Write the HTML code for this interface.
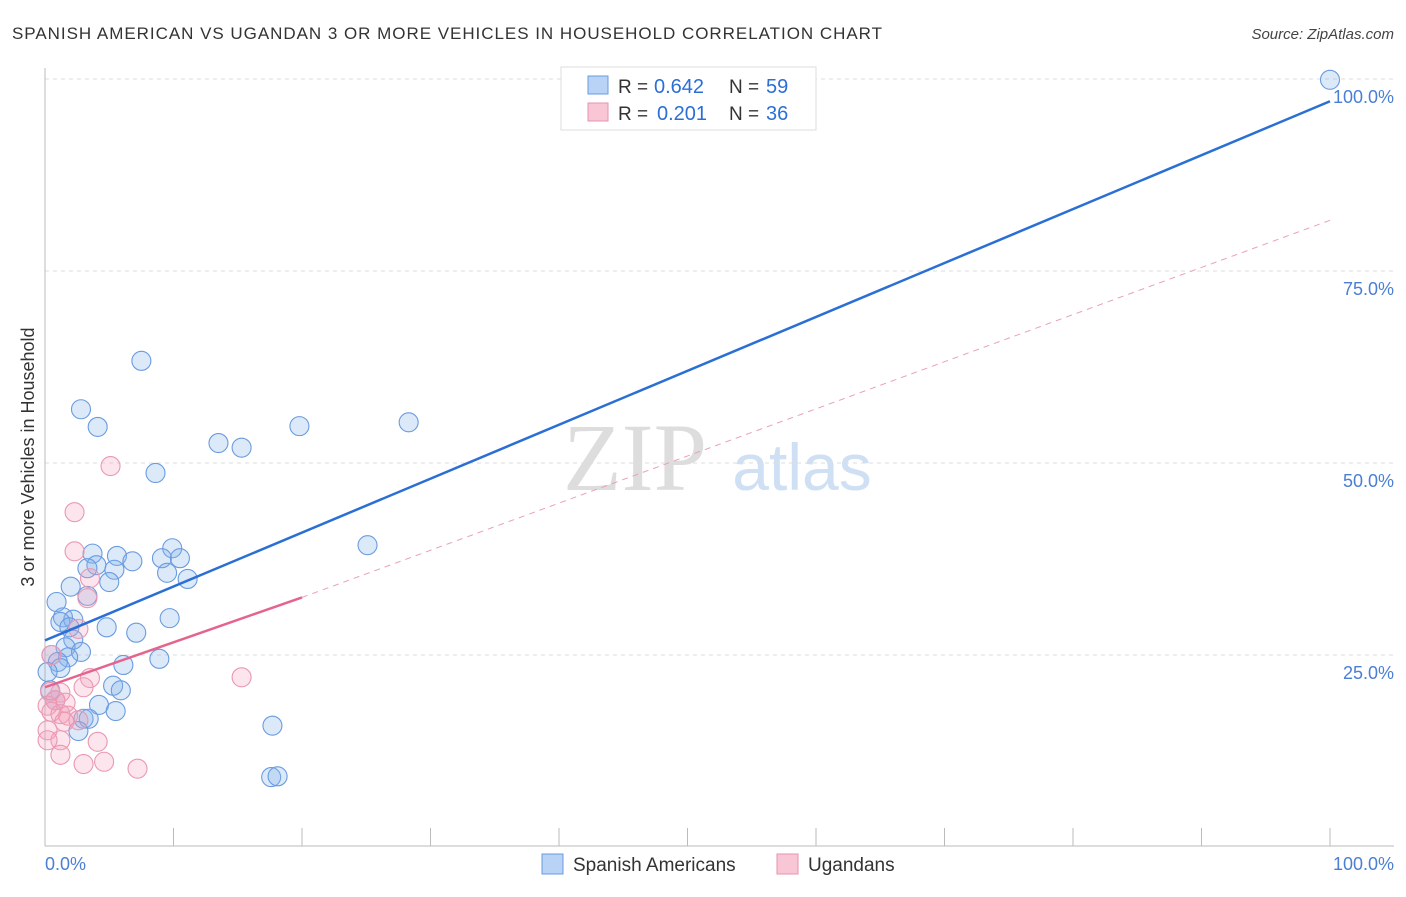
<!DOCTYPE html>
<html><head><meta charset="utf-8"><style>
body{margin:0;background:#fff;font-family:"Liberation Sans",sans-serif}
</style></head><body>
<svg width="1406" height="892" xmlns="http://www.w3.org/2000/svg" font-family="Liberation Sans, sans-serif">
<text x="12" y="39" font-size="17" fill="#333" textLength="870">SPANISH AMERICAN VS UGANDAN 3 OR MORE VEHICLES IN HOUSEHOLD CORRELATION CHART</text>
<text x="1394" y="39" font-size="15" fill="#444" text-anchor="end" font-style="italic">Source: ZipAtlas.com</text>
<text x="635" y="490" font-size="96" fill="#ddd" font-family="Liberation Serif, serif" text-anchor="middle">ZIP</text>
<text x="802" y="490" font-size="66" fill="#cfe0f5" text-anchor="middle">atlas</text>
<g id="grid"></g>
<g id="axes"></g>
<g id="pts"></g>
<g id="lines"></g>
<text transform="translate(34,457) rotate(-90)" font-size="18" fill="#333" text-anchor="middle">3 or more Vehicles in Household</text>
<text x="45" y="870" font-size="18" fill="#4a7fd4">0.0%</text>
<text x="1394" y="870" font-size="18" fill="#4a7fd4" text-anchor="end">100.0%</text>
<g>
<rect x="561" y="67" width="255" height="63" fill="#fff" stroke="#ddd"/>
<rect x="588" y="76" width="20" height="18" fill="#b8d3f5" stroke="#6a9be0"/>
<rect x="588" y="103" width="20" height="18" fill="#f9c6d5" stroke="#e893ae"/>
<text x="618" y="93" font-size="19" fill="#333">R =</text>
<text x="654" y="93" font-size="20" fill="#2b6fd6">0.642</text>
<text x="729" y="93" font-size="19" fill="#333">N =</text>
<text x="766" y="93" font-size="20" fill="#2b6fd6">59</text>
<text x="618" y="120" font-size="19" fill="#333">R =</text>
<text x="657" y="120" font-size="20" fill="#2b6fd6">0.201</text>
<text x="729" y="120" font-size="19" fill="#333">N =</text>
<text x="766" y="120" font-size="20" fill="#2b6fd6">36</text>
</g>
<g>
<rect x="542" y="854" width="21" height="20" fill="#b8d3f5" stroke="#6a9be0"/>
<text x="573" y="871" font-size="19" fill="#333">Spanish Americans</text>
<rect x="777" y="854" width="21" height="20" fill="#f9c6d5" stroke="#e893ae"/>
<text x="808" y="871" font-size="19" fill="#333">Ugandans</text>
</g>
</svg>
<script>
const yTicks=[25,50,75,100];
const yTickLabels=["25.0%","50.0%","75.0%","100.0%"];
const blueX=[100,7.5,2.8,4.1,28.3,19.8,13.5,15.3,8.6,25.1,9.9,3.7,5.6,9.1,6.8,10.5,4.0,3.3,5.4,9.5,11.1,5.0,2.0,3.3,0.9,1.4,2.2,1.2,1.9,4.8,7.1,9.7,2.2,1.6,0.5,2.8,1.8,1.0,1.2,0.2,8.9,6.1,5.3,5.9,4.2,5.5,3.0,3.4,2.6,17.7,17.6,18.1,0.4,0.8];
const blueY=[99.9,63.3,57.0,54.7,55.3,54.8,52.6,52.0,48.7,39.3,38.9,38.2,37.9,37.6,37.2,37.6,36.7,36.3,36.1,35.7,34.9,34.5,33.9,32.7,31.9,29.9,29.6,29.3,28.6,28.6,27.9,29.8,27.0,26.0,25.0,25.4,24.7,24.1,23.3,22.8,24.5,23.7,21.0,20.4,18.5,17.7,16.7,16.7,15.1,15.8,9.1,9.2,20.4,19.1];
const pinkX=[5.1,2.3,2.3,3.5,3.3,2.6,0.5,15.3,3.5,3.0,1.2,0.4,0.8,1.6,0.2,0.5,1.2,1.8,2.6,0.2,1.5,4.1,1.2,1.2,3.0,4.6,7.2,0.2];
const pinkY=[49.6,43.6,38.5,35.0,32.4,28.4,25.0,22.1,22.0,20.8,20.1,20.2,19.1,18.8,18.4,17.6,17.3,17.1,16.5,15.2,16.3,13.7,13.9,12.0,10.8,11.1,10.2,13.9];
const blueTrend=[[0,26.9],[100,97.1]];
const pinkTrend=[[0,20.8],[20,32.5]];
const pinkDash=[[20,32.5],[100,81.6]];
const NS="http://www.w3.org/2000/svg";
const X=v=>45+v*12.85, Y=v=>847-v*7.68;
function mk(t,a,p){const e=document.createElementNS(NS,t);for(const k in a)e.setAttribute(k,a[k]);document.getElementById(p).appendChild(e);return e;}
yTicks.forEach((t,i)=>{
 const g=mk('line',{x1:45,x2:1394,y1:Y(t),y2:Y(t),stroke:'#ddd','stroke-dasharray':'4,4'},'grid');
 
 
 const l=mk('text',{x:1394,y:Y(t)+24,'font-size':18,fill:'#4a7fd4','text-anchor':'end'},'grid');
 l.textContent=yTickLabels[i];
 
 
});
let a=mk('line',{x1:45,x2:45,y1:68,y2:846,stroke:'#bbb'},'axes');


a=mk('line',{x1:45,x2:1394,y1:846,y2:846,stroke:'#bbb'},'axes');


for(let i=0;i<=10;i++){
 const t=mk('line',{x1:X(i*10),x2:X(i*10),y1:828,y2:846,stroke:'#bbb'},'axes');
 
 
}
blueX.forEach((x,i)=>{
 const c=mk('circle',{cx:X(x),cy:Y(blueY[i]),r:9.5,fill:'rgba(130,175,235,0.28)',stroke:'#6a9be0','stroke-width':1.1},'pts');
 
 
});
pinkX.forEach((x,i)=>{
 const c=mk('circle',{cx:X(x),cy:Y(pinkY[i]),r:9.5,fill:'rgba(245,160,185,0.28)',stroke:'#ea98b2','stroke-width':1.1},'pts');
 
 
});
let l=mk('line',{x1:X(blueTrend[0][0]),y1:Y(blueTrend[0][1]),x2:X(blueTrend[1][0]),y2:Y(blueTrend[1][1]),stroke:'#2a6fd4','stroke-width':2.5},'lines');


l=mk('line',{x1:X(pinkDash[0][0]),y1:Y(pinkDash[0][1]),x2:X(pinkDash[1][0]),y2:Y(pinkDash[1][1]),stroke:'#eaa0b8','stroke-width':1,'stroke-dasharray':'6,5'},'lines');


l=mk('line',{x1:X(pinkTrend[0][0]),y1:Y(pinkTrend[0][1]),x2:X(pinkTrend[1][0]),y2:Y(pinkTrend[1][1]),stroke:'#e5648e','stroke-width':2.5},'lines');


</script>
</body></html>
